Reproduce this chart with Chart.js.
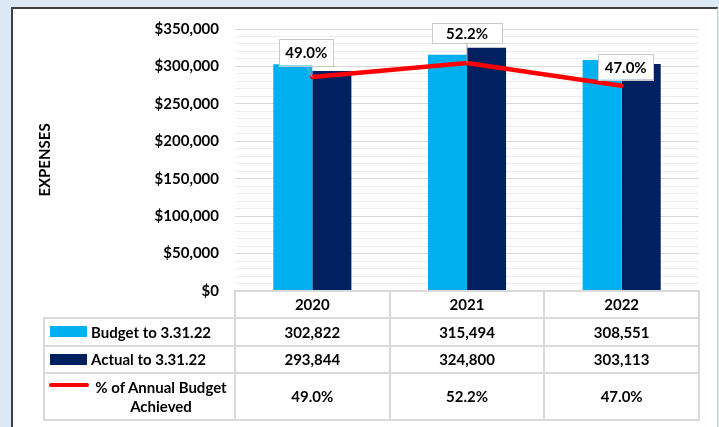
<!DOCTYPE html>
<html>
<head>
<meta charset="utf-8">
<script src="https://cdn.jsdelivr.net/npm/chart.js@4.4.1/dist/chart.umd.min.js"></script>
<style>
  html, body { margin: 0; padding: 0; background: #dde9f5; overflow: hidden; }
  #frame { position: absolute; left: 11px; top: 7px; width: 707px; height: 440px; background: #fff;
           border-left: 2px solid #3d4146; border-top: 2px solid #3d4146; border-right: 1px solid #cfcfcf; box-sizing: border-box; }
  #wrap { position: absolute; left: 0; top: 0; width: 719px; height: 427px; }
  #chart { position: absolute; left: 0; top: 0; }
  .ln { position: absolute; background: #d9d9d9; }
  .cell { position: absolute; display: flex; align-items: center; justify-content: center;
          font: bold 15px Lato, sans-serif; color: #000; text-align: center; line-height: 19px; }
  .key { position: absolute; }
</style>
</head>
<body>
<div id="frame"></div>
<div id="wrap">
  <canvas id="chart" width="719" height="427"></canvas>
  <div id="table"></div>
</div>
<script>
// ---- Data ----
const years = ['2020', '2021', '2022'];
const budget = [302822, 315494, 308551];
const actual = [293844, 324800, 303113];
const pctAchieved = [0.490, 0.522, 0.470];
const seriesNames = ['Budget to 3.31.22', 'Actual to 3.31.22', '% of Annual Budget Achieved'];
const yMax = 350000;
const majorStep = 50000;
const minorStep = 10000;

// ---- Colours / styles ----
const cBudget = '#00b0f0';
const cActual = '#002060';
const cPct = '#ff0000';
const font = 'Lato, sans-serif';

// data label boxes (offsets from the point, box size)
const labelShift = [
  { dx: -6, dy: -25, w: 54, h: 27, leader: true },
  { dx: 0,  dy: -30, w: 70, h: 20, leader: true },
  { dx: 4,  dy: -19, w: 55, h: 26, leader: false }
];

const pctFmt = v => (v * 100).toFixed(1) + '%';

const labelBoxes = {
  id: 'labelBoxes',
  afterDatasetsDraw(chart) {
    const ctx = chart.ctx;
    const meta = chart.getDatasetMeta(2);
    meta.data.forEach((pt, i) => {
      const s = labelShift[i];
      const cx = pt.x + s.dx, cy = pt.y + s.dy;
      ctx.save();
      if (s.leader) {
        ctx.strokeStyle = '#a6a6a6';
        ctx.lineWidth = 1;
        ctx.beginPath();
        ctx.moveTo(cx, cy + s.h / 2);
        ctx.lineTo(pt.x, pt.y);
        ctx.stroke();
      }
      ctx.fillStyle = '#fff';
      ctx.fillRect(cx - s.w / 2, cy - s.h / 2, s.w, s.h);
      ctx.strokeStyle = '#c8c8c8';
      ctx.lineWidth = 1;
      ctx.strokeRect(Math.round(cx - s.w / 2) + 0.5, Math.round(cy - s.h / 2) + 0.5, s.w, s.h);
      ctx.fillStyle = '#000';
      ctx.font = 'bold 15px ' + font;
      ctx.textAlign = 'center';
      ctx.textBaseline = 'middle';
      ctx.fillText(pctFmt(pctAchieved[i]), cx, cy + 1);
      ctx.restore();
    });
  }
};

const chart = new Chart(document.getElementById('chart'), {
  type: 'bar',
  data: {
    labels: years,
    datasets: [
      { label: seriesNames[0], data: budget, backgroundColor: cBudget, order: 1, yAxisID: 'y',
        categoryPercentage: 0.505, barPercentage: 1.0 },
      { label: seriesNames[1], data: actual, backgroundColor: cActual, order: 1, yAxisID: 'y',
        categoryPercentage: 0.505, barPercentage: 1.0 },
      { type: 'line', label: seriesNames[2], data: pctAchieved, borderColor: cPct, borderWidth: 4.5,
        borderCapStyle: 'round', pointRadius: 0, tension: 0, order: 0, yAxisID: 'y1' }
    ]
  },
  options: {
    responsive: false, animation: false, devicePixelRatio: 1,
    layout: { padding: { left: 36, top: 29, right: 20, bottom: 136 } },
    plugins: { legend: { display: false }, tooltip: { enabled: false } },
    scales: {
      x: { display: false },
      y: {
        min: 0, max: yMax,
        border: { display: false },
        grid: { drawTicks: false, lineWidth: 1,
                color: c => (c.tick && c.tick.value % majorStep === 0) ? '#d9d9d9' : '#ececec' },
        ticks: { stepSize: minorStep, autoSkip: false, maxTicksLimit: 50, padding: 16,
                 color: '#000', font: { family: font, size: 15, weight: 'bold' },
                 callback: v => v % majorStep === 0 ? '$' + v.toLocaleString('en-US') : '' },
        title: { display: true, text: 'EXPENSES', color: '#000', padding: 0,
                 font: { family: font, size: 15, weight: 'bold' } },
        afterFit: s => { s.width = 199; }
      },
      y1: { display: false, min: 0, max: 0.6 }
    }
  },
  plugins: [labelBoxes]
});

// ---- Data table under the plot ----
const area = chart.chartArea;
const tbl = document.getElementById('table');
const colW = (area.right - area.left) / years.length;
const legendLeft = 44;
const rowH = [27, 28, 27, 47];
const rowY = [area.bottom];
rowH.forEach(h => rowY.push(rowY[rowY.length - 1] + h));
const colX = [legendLeft, area.left];
years.forEach((_, i) => colX.push(area.left + colW * (i + 1)));

function addDiv(cls, css, text) {
  const d = document.createElement('div');
  d.className = cls;
  Object.assign(d.style, css);
  if (text !== undefined) d.textContent = text;
  tbl.appendChild(d);
  return d;
}

// grid lines
rowY.forEach((y, r) => {
  const x0 = r === 0 ? area.left : legendLeft;
  addDiv('ln', { left: (x0 - 1) + 'px', top: (y - 1) + 'px', width: (area.right - x0 + 2) + 'px', height: '2px' });
});
colX.forEach((x, c) => {
  const y0 = c === 0 ? rowY[1] : rowY[0];
  addDiv('ln', { left: (x - 1) + 'px', top: (y0 - 1) + 'px', width: '2px', height: (rowY[4] - y0 + 1) + 'px' });
});

// header row (years)
years.forEach((yr, i) => {
  addDiv('cell', { left: colX[i + 1] + 'px', top: rowY[0] + 'px', width: colW + 'px', height: rowH[0] + 'px' }, yr);
});

// series rows
const rows = [
  budget.map(v => v.toLocaleString('en-US')),
  actual.map(v => v.toLocaleString('en-US')),
  pctAchieved.map(pctFmt)
];
rows.forEach((vals, r) => {
  const top = rowY[r + 1], h = rowH[r + 1];
  vals.forEach((v, i) => {
    addDiv('cell', { left: colX[i + 1] + 'px', top: top + 'px', width: colW + 'px', height: h + 'px' }, v);
  });
  // legend key
  if (r < 2) {
    addDiv('key', { left: '50px', top: (top + 8) + 'px', width: '37px', height: '11px',
                    background: r === 0 ? cBudget : cActual });
  } else {
    addDiv('key', { left: '49px', top: (top + 10) + 'px', width: '40px', height: '4px',
                    background: cPct, borderRadius: '2px' });
  }
  addDiv('cell', { left: '91px', top: top + 'px', width: (area.left - 91 - 4) + 'px', height: h + 'px',
                   justifyContent: r < 2 ? 'flex-start' : 'center' }, seriesNames[r]);
});
</script>
</body>
</html>
